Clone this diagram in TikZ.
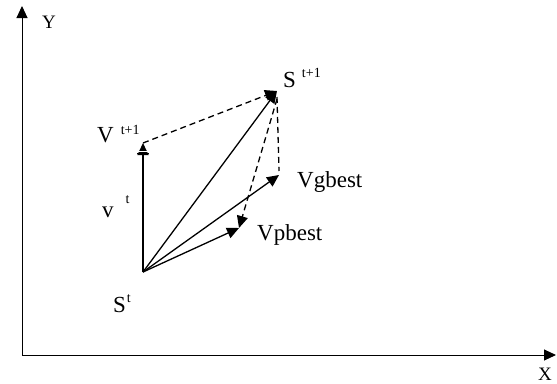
\documentclass[tikz,border=0pt]{standalone}
\usepackage{fontspec}
\setmainfont{Liberation Serif}
\usetikzlibrary{arrows.meta}
\newcommand\supx[3]{\hspace{#1pt}\raisebox{#2pt}{\fontsize{14}{14}\selectfont #3}}

\begin{document}
\begin{tikzpicture}[x=1pt,y=-1pt,
  vec/.style={line width=1.3pt, -{Triangle[length=12pt,width=11pt]}},
  guide/.style={line width=1.3pt, dash pattern=on 6pt off 4pt},
  lbl/.style={anchor=base west, inner sep=0pt, font=\fontsize{23}{26}\selectfont},
  axlbl/.style={anchor=base west, inner sep=0pt, font=\fontsize{19}{21}\selectfont}]
\useasboundingbox (0,0) rectangle (557,383);

% axes
\coordinate (o) at (22,355);
\coordinate (ytip) at (22,6);
\coordinate (xtip) at (556,355);
\draw[line width=1pt, -{Triangle[length=12pt,width=11pt]}] (o) -- (ytip);
\draw[line width=1pt, -{Triangle[length=12pt,width=11pt]}] (o) -- (xtip);
\node[axlbl] (ylab) at (42,28) {Y};
\node[axlbl] (xlab) at (538,380) {X};

% points
\coordinate (st) at (143,272);
\coordinate (vt) at (143,143);
\coordinate (snext) at (277,91);
\coordinate (vg) at (279,175);
\coordinate (vp) at (239,228);

% vectors
\draw[vec] (st) -- (vt);
\draw[white, line width=1pt] ([xshift=-6pt,yshift=-8.5pt]vt) -- ([xshift=6pt,yshift=-8.5pt]vt);
\draw[line width=1.3pt] ([xshift=-6pt,yshift=-10.5pt]vt) -- ([xshift=6pt,yshift=-10.5pt]vt);
\draw[vec] (st) -- (snext);
\draw[vec] (st) -- (vg);
\draw[vec] (st) -- (vp);
\draw[guide, -{Triangle[length=12pt,width=11pt]}] (vt) -- (snext);
\draw[guide, -{Triangle[length=12pt,width=11pt]}] ([yshift=-8pt]snext) -- (vp);
\draw[guide] ([yshift=-6pt]snext) -- ([yshift=4pt]vg);

% labels
\node[lbl] (lsnext) at (283,87) {S\supx{6}{10}{t+1}};
\node[lbl] (lvt) at (97,142) {V\supx{7}{8}{t+1}};
\node[lbl] (lv) at (102,217) {v\supx{12}{14}{t}};
\node[lbl] (lst) at (113,312) {S\supx{1}{10}{t}};
\node[lbl] (lvg) at (297,187) {Vgbest};
\node[lbl] (lvp) at (257,240) {Vpbest};
\end{tikzpicture}
\end{document}
